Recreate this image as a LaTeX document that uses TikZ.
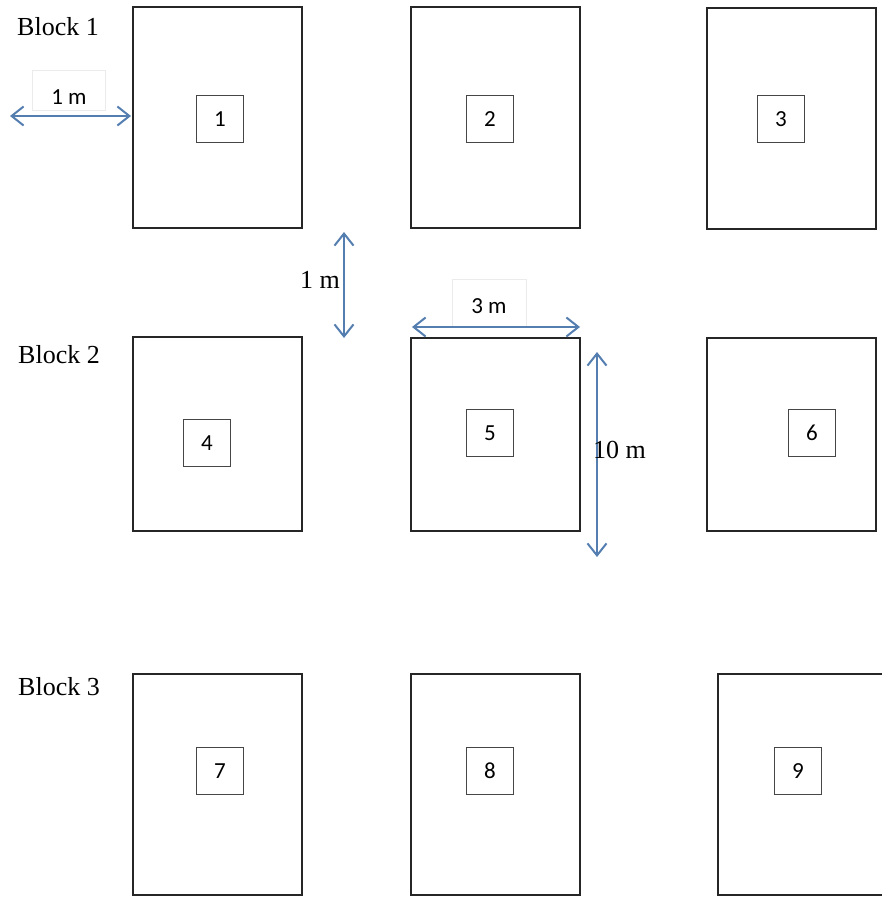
\documentclass[tikz,border=0pt]{standalone}
\usepackage{fontspec}
\setmainfont{Liberation Serif}
\newfontfamily\tagfont{Carlito}
\usetikzlibrary{arrows.meta}
\definecolor{dimblue}{RGB}{84,126,176}
\definecolor{tagline}{RGB}{70,70,70}

\begin{document}
\begin{tikzpicture}[x=1pt,y=-1pt,
    plotedge/.style={draw=black!85,line width=2.2pt},
    tagbox/.style={draw=tagline,line width=1.4pt,minimum size=47pt,inner sep=0pt,
                   font=\tagfont\fontsize{23}{23}\selectfont},
    dimline/.style={dimblue,line width=2pt,
                    {Straight Barb[length=12pt,width=19pt]}-{Straight Barb[length=12pt,width=19pt]}},
    serifnote/.style={anchor=base west,inner sep=0pt,font=\fontsize{26}{26}\selectfont},
    sansnote/.style={anchor=base,inner sep=0pt,font=\tagfont\fontsize{23}{23}\selectfont},
    notebox/.style={draw=black!8,line width=0.8pt,fill=white}]
  \useasboundingbox (0,0) rectangle (882,897);
  % --- block 1 ---
  \node[serifnote] (blk1) at (17,35) {Block 1};
  \draw[plotedge] (133,7) rectangle (302,228);
  \draw[plotedge] (411,7) rectangle (580,228);
  \draw[plotedge] (707,8) rectangle (876,229);
  \node[tagbox] (t1) at (220,119) {1};
  \node[tagbox] (t2) at (490,119) {2};
  \node[tagbox] (t3) at (781,119) {3};
  % --- block 2 ---
  \node[serifnote] (blk2) at (18,363) {Block 2};
  \draw[plotedge] (133,337) rectangle (302,531);
  \draw[plotedge] (411,338) rectangle (580,531);
  \draw[plotedge] (707,338) rectangle (876,531);
  \node[tagbox] (t4) at (207,443) {4};
  \node[tagbox] (t5) at (490,433) {5};
  \node[tagbox] (t6) at (812,433) {6};
  % --- block 3 ---
  \node[serifnote] (blk3) at (18,695) {Block 3};
  \draw[plotedge] (133,674) rectangle (302,895);
  \draw[plotedge] (411,674) rectangle (580,895);
  \draw[plotedge] (718,674) rectangle (886,895);
  \node[tagbox] (t7) at (220,771) {7};
  \node[tagbox] (t8) at (490,771) {8};
  \node[tagbox] (t9) at (798,771) {9};
  % --- dimensions ---
  \fill[notebox] (32,70) rectangle (105,110);
  \node[sansnote] (d1) at (69,104) {1 m};
  \coordinate (d1a) at (10,116);
  \coordinate (d1b) at (131,116);
  \draw[dimline] (d1a) -- (d1b);
  \node[serifnote] (d2) at (300,288) {1 m};
  \coordinate (d2a) at (344,232);
  \coordinate (d2b) at (344,338);
  \draw[dimline] (d2a) -- (d2b);
  \fill[notebox] (452,279) rectangle (526,327);
  \node[sansnote] (d3) at (489,313) {3 m};
  \coordinate (d3a) at (412,327);
  \coordinate (d3b) at (580,327);
  \draw[dimline] (d3a) -- (d3b);
  \coordinate (d4a) at (597,352);
  \coordinate (d4b) at (597,557);
  \draw[dimline] (d4a) -- (d4b);
  \node[serifnote] (d4) at (593,458) {10 m};
\end{tikzpicture}
\end{document}
